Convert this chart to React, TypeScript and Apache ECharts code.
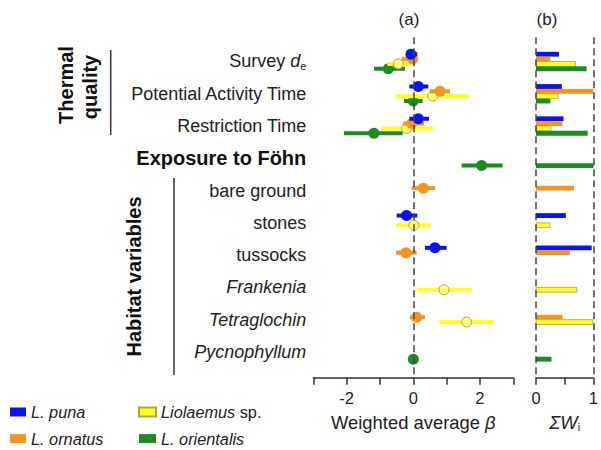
import React, { useEffect, useRef } from "react";
import * as echarts from "echarts";

const FONT = "'Liberation Sans', Arial, Helvetica, sans-serif";

// Row categories (top to bottom)
const rowNames = [
  "Survey de",
  "Potential Activity Time",
  "Restriction Time",
  "Exposure to Föhn",
  "bare ground",
  "stones",
  "tussocks",
  "Frankenia",
  "Tetraglochin",
  "Pycnophyllum",
];
const rowKind = ["survey", "n", "n", "b", "n", "n", "n", "i", "i", "i"];

const speciesNames = ["L. puna", "L. ornatus", "Liolaemus sp.", "L. orientalis"];

// (a) weighted average beta with interval ends
const punaBeta = [-0.07, 0.15, 0.15, null, null, -0.2, 0.65, null, null, null];
const punaLow = [-0.2, -0.12, -0.12, null, null, -0.5, 0.35, null, null, null];
const punaHigh = [0.12, 0.45, 0.47, null, null, 0.12, 1.0, null, null, null];

const ornatusBeta = [-0.02, 0.8, -0.05, null, 0.3, null, -0.22, null, 0.1, null];
const ornatusLow = [-0.35, 0.5, -0.3, null, -0.05, null, -0.52, null, -0.1, null];
const ornatusHigh = [0.1, 1.1, 0.32, null, 0.65, null, 0.1, null, 0.35, null];

const liolaemusBeta = [-0.45, 0.58, -0.2, null, null, 0.02, null, 0.92, 1.6, null];
const liolaemusLow = [-0.78, -0.52, -0.95, null, null, -0.52, null, 0.1, 0.78, null];
const liolaemusHigh = [-0.05, 1.68, 0.6, null, null, 0.53, null, 1.75, 2.4, null];

const orientalisBeta = [-0.75, 0.0, -1.18, 2.05, null, null, null, null, null, 0.0];
const orientalisLow = [-1.18, -0.28, -2.08, 1.45, null, null, null, null, null, 0.0];
const orientalisHigh = [-0.25, 0.28, -0.32, 2.68, null, null, null, null, null, 0.0];

// (b) sum of Akaike weights
const punaW = [0.4, 0.45, 0.48, null, null, 0.52, 0.97, null, null, null];
const ornatusW = [0.25, 1.0, 0.46, null, 0.66, null, 0.59, null, 0.46, null];
const liolaemusW = [0.69, 0.38, 0.26, null, null, 0.24, null, 0.71, 0.99, null];
const orientalisW = [0.88, 0.25, 0.9, 1.0, null, null, null, null, null, 0.27];

const betaX = { min: -3, max: 3, interval: 1 };
const betaLabels = [-2, 0, 2];
const wX = { min: 0, max: 1, interval: 0.5 };
const wLabels = [0, 1];

const colors = ["#0a14f0", "#f7941d", "#ffff22", "#1f8a24"];
const edgeColors = ["#0a14f0", "#f7941d", "#b5a23c", "#1f8a24"];
const offsets = [-0.225, -0.075, 0.075, 0.225];
const barHalf = 0.075;

const betas = [punaBeta, ornatusBeta, liolaemusBeta, orientalisBeta];
const lows = [punaLow, ornatusLow, liolaemusLow, orientalisLow];
const highs = [punaHigh, ornatusHigh, liolaemusHigh, orientalisHigh];
const weights = [punaW, ornatusW, liolaemusW, orientalisW];

const rowFormatter = (v: number) => {
  const i = Math.round(v);
  const k = rowKind[i];
  const name = rowNames[i];
  if (k === "survey") return "{n|Survey }{i|d}{sub|e}";
  if (k === "b") return "{b|" + name + "}";
  if (k === "i") return "{i|" + name + "}";
  return "{n|" + name + "}";
};

export default function App() {
  const ref = useRef<HTMLDivElement>(null);
  useEffect(() => {
    if (!ref.current) return;
    const chart = echarts.init(ref.current, undefined, { renderer: "svg" });

    const axisLineStyle = { color: "#333", width: 1.5 };
    const series: any[] = [];

    // dashed reference lines
    series.push({
      type: "line",
      name: "zero-a",
      xAxisIndex: 0,
      yAxisIndex: 0,
      data: [],
      silent: true,
      markLine: {
        symbol: "none",
        silent: true,
        label: { show: false },
        lineStyle: { type: [7, 4], color: "#444", width: 1.5 },
        data: [{ xAxis: 0 }],
      },
    });
    series.push({
      type: "line",
      name: "ref-b",
      xAxisIndex: 1,
      yAxisIndex: 1,
      data: [],
      silent: true,
      markLine: {
        symbol: "none",
        silent: true,
        label: { show: false },
        lineStyle: { type: [7, 4], color: "#444", width: 1.5 },
        data: [{ xAxis: 0 }, { xAxis: 1 }],
      },
    });

    const drawOrder = [3, 2, 1, 0];
    drawOrder.forEach((s) => {
      const data = rowNames
        .map((_, i) => (betas[s][i] == null ? null : [i, betas[s][i], lows[s][i], highs[s][i]]))
        .filter((d) => d !== null);
      const off = offsets[s];
      const isYellow = s === 2;
      series.push({
        type: "custom",
        name: speciesNames[s],
        xAxisIndex: 0,
        yAxisIndex: 0,
        itemStyle: { color: colors[s], borderColor: edgeColors[s], borderWidth: isYellow ? 1 : 0 },
        encode: { x: [1, 2, 3], y: 0 },
        data,
        renderItem: (params: any, api: any) => {
          const row = api.value(0);
          const y = row + off;
          const pm = api.coord([api.value(1), y]);
          const p1 = api.coord([api.value(2), y]);
          const p2 = api.coord([api.value(3), y]);
          const children: any[] = [];
          if (Math.abs(p2[0] - p1[0]) > 0.5) {
            children.push({
              type: "line",
              shape: { x1: p1[0], y1: p1[1], x2: p2[0], y2: p2[1] },
              style: { stroke: colors[s], lineWidth: 4 },
            });
          }
          children.push({
            type: "circle",
            shape: { cx: pm[0], cy: pm[1], r: isYellow ? 5 : 5.5 },
            style: isYellow
              ? { fill: "#ffff70", stroke: edgeColors[s], lineWidth: 1 }
              : { fill: colors[s], stroke: colors[s], lineWidth: 0 },
          });
          return { type: "group", children };
        },
      });
    });

    [0, 1, 2, 3].forEach((s) => {
      const data = rowNames
        .map((_, i) => (weights[s][i] == null ? null : [i, weights[s][i]]))
        .filter((d) => d !== null);
      const off = offsets[s];
      const isYellow = s === 2;
      series.push({
        type: "custom",
        name: speciesNames[s],
        xAxisIndex: 1,
        yAxisIndex: 1,
        itemStyle: { color: colors[s] },
        encode: { x: 1, y: 0 },
        data,
        renderItem: (params: any, api: any) => {
          const y = api.value(0) + off;
          const a = api.coord([0, y - barHalf]);
          const b = api.coord([api.value(1), y + barHalf]);
          return {
            type: "rect",
            shape: {
              x: a[0],
              y: Math.min(a[1], b[1]),
              width: b[0] - a[0],
              height: Math.abs(b[1] - a[1]),
            },
            style: isYellow
              ? { fill: colors[s], stroke: edgeColors[s], lineWidth: 0.8 }
              : { fill: colors[s] },
          };
        },
      });
    });

    const subStyle = { fontSize: 11, color: "#222", fontFamily: FONT, padding: [9, 0, 0, 0] };

    chart.setOption({
      animation: false,
      textStyle: { fontFamily: FONT },
      grid: [
        { left: 313.3, right: 87.7, top: 37.3, bottom: 72.3 },
        { left: 536, right: 3, top: 37.3, bottom: 72.3 },
      ],
      xAxis: [
        {
          type: "value",
          gridIndex: 0,
          min: betaX.min,
          max: betaX.max,
          interval: betaX.interval,
          splitLine: { show: false },
          axisLine: { show: true, onZero: false, lineStyle: axisLineStyle },
          axisTick: { show: true, length: 7, lineStyle: axisLineStyle },
          axisLabel: {
            margin: 12,
            fontSize: 16.5,
            color: "#222",
            fontFamily: FONT,
            formatter: (v: number) => (betaLabels.indexOf(v) >= 0 ? String(v) : ""),
          },
          name: "{n|Weighted average }{it|β}",
          nameLocation: "middle",
          nameGap: 36,
          nameTextStyle: {
            rich: {
              n: { fontSize: 18.4, color: "#222", fontFamily: FONT },
              it: { fontSize: 18.4, color: "#222", fontStyle: "italic", fontFamily: FONT },
            },
          },
        },
        {
          type: "value",
          gridIndex: 1,
          min: wX.min,
          max: wX.max,
          interval: wX.interval,
          splitLine: { show: false },
          axisLine: { show: true, onZero: false, lineStyle: axisLineStyle },
          axisTick: { show: true, length: 7, lineStyle: axisLineStyle },
          axisLabel: {
            margin: 12,
            fontSize: 16.5,
            color: "#222",
            fontFamily: FONT,
            formatter: (v: number) => (wLabels.indexOf(v) >= 0 ? String(v) : ""),
          },
          name: "{it|ΣW}{sub|i}",
          nameLocation: "middle",
          nameGap: 35,
          nameTextStyle: {
            rich: {
              it: { fontSize: 18.4, color: "#222", fontStyle: "italic", fontFamily: FONT },
              sub: subStyle,
            },
          },
        },
      ],
      yAxis: [
        {
          type: "value",
          gridIndex: 0,
          inverse: true,
          min: -0.75,
          max: 9.8,
          splitLine: { show: false },
          axisLine: { show: false },
          axisTick: { show: false },
          axisLabel: {
            show: true,
            margin: 7,
            customValues: rowNames.map((_, i) => i),
            formatter: rowFormatter,
            rich: {
              n: { fontSize: 18, color: "#222", fontFamily: FONT },
              i: { fontSize: 18, color: "#222", fontStyle: "italic", fontFamily: FONT },
              b: { fontSize: 20, color: "#111", fontWeight: "bold", fontFamily: FONT },
              sub: subStyle,
            },
          },
        },
        {
          type: "value",
          gridIndex: 1,
          inverse: true,
          min: -0.75,
          max: 9.8,
          show: false,
        },
      ],
      legend: [
        {
          left: 10,
          top: 403,
          padding: 0,
          orient: "vertical",
          itemWidth: 16,
          itemHeight: 9,
          itemGap: 8.6,
          itemTextGap: 11,
          selectedMode: false,
          icon: "rect",
          data: ["L. puna", "L. ornatus"],
          textStyle: { fontSize: 16.3, lineHeight: 18, color: "#222", fontStyle: "italic", fontFamily: FONT },
        },
        {
          left: 138,
          top: 403,
          padding: 0,
          orient: "vertical",
          itemWidth: 17,
          itemHeight: 9,
          itemGap: 8.6,
          itemTextGap: 13,
          selectedMode: false,
          icon: "rect",
          data: ["Liolaemus sp.", "L. orientalis"],
          formatter: (name: string) =>
            name === "Liolaemus sp." ? "{i|Liolaemus}{n| sp.}" : "{i|" + name + "}",
          textStyle: {
            fontSize: 16.3,
            lineHeight: 18,
            color: "#222",
            fontFamily: FONT,
            rich: {
              i: { fontSize: 16.3, lineHeight: 18, color: "#222", fontStyle: "italic", fontFamily: FONT },
              n: { fontSize: 16.3, lineHeight: 18, color: "#222", fontFamily: FONT },
            },
          },
        },
      ],
      graphic: [
        {
          type: "text",
          x: 409,
          y: 19,
          style: { text: "(a)", font: "17px " + FONT, fill: "#222", align: "center", verticalAlign: "middle" },
        },
        {
          type: "text",
          x: 547,
          y: 19,
          style: { text: "(b)", font: "17px " + FONT, fill: "#222", align: "center", verticalAlign: "middle" },
        },
        {
          type: "text",
          x: 66,
          y: 85,
          rotation: Math.PI / 2,
          style: { text: "Thermal", font: "bold 20px " + FONT, fill: "#111", align: "center", verticalAlign: "middle" },
        },
        {
          type: "text",
          x: 90,
          y: 87,
          rotation: Math.PI / 2,
          style: { text: "quality", font: "bold 20px " + FONT, fill: "#111", align: "center", verticalAlign: "middle" },
        },
        {
          type: "text",
          x: 134,
          y: 276.5,
          rotation: Math.PI / 2,
          style: {
            text: "Habitat variables",
            font: "bold 20px " + FONT,
            fill: "#111",
            align: "center",
            verticalAlign: "middle",
          },
        },
        {
          type: "line",
          shape: { x1: 110.7, y1: 50, x2: 110.7, y2: 135 },
          style: { stroke: "#333", lineWidth: 1.5 },
        },
        {
          type: "line",
          shape: { x1: 174, y1: 178, x2: 174, y2: 375 },
          style: { stroke: "#333", lineWidth: 1.5 },
        },
      ],
      series,
    });
    return () => chart.dispose();
  }, []);
  return (
    <div
      ref={ref}
      style={{ position: "fixed", left: 0, top: 0, width: 601, height: 450, background: "#fff" }}
    />
  );
}
